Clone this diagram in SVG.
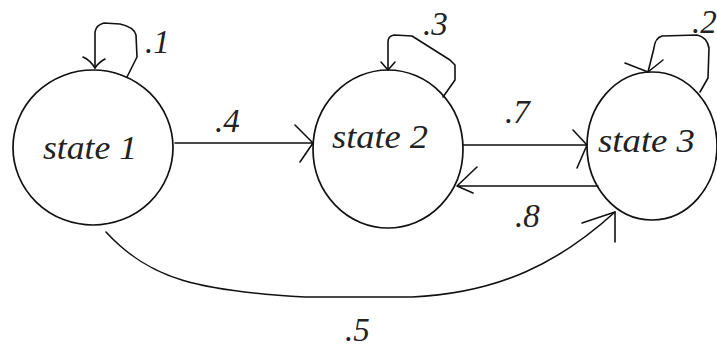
<svg xmlns="http://www.w3.org/2000/svg" width="717" height="349" viewBox="0 0 717 349">
<style>
.st{fill:none;stroke:#111;stroke-width:1.7}
.ln{fill:none;stroke:#111;stroke-width:1.6;stroke-linejoin:round;stroke-linecap:round}
.nm{font-family:"Liberation Serif","Times New Roman",serif;font-style:italic;font-size:33px;fill:#222}
.lb{font-family:"Liberation Serif","Times New Roman",serif;font-style:italic;font-size:33px;fill:#222}
</style>
<rect width="717" height="349" fill="#fff"/>
<g id="state1">
<ellipse class="st" cx="93" cy="147.5" rx="80" ry="77.5"/>
<text class="nm" x="43" y="159" textLength="94" lengthAdjust="spacingAndGlyphs">state 1</text>
</g>
<g id="state2">
<ellipse class="st" cx="388" cy="149" rx="75" ry="79"/>
<text class="nm" x="332" y="148" textLength="96" lengthAdjust="spacingAndGlyphs">state 2</text>
</g>
<g id="state3">
<ellipse class="st" cx="652" cy="146" rx="65" ry="74"/>
<text class="nm" x="598" y="152" textLength="97" lengthAdjust="spacingAndGlyphs">state 3</text>
</g>
<g id="connectors">
<path class="ln" d="M127,77 L137,57 L136,35 Q134,27 120,24 L104,23 Q96,25 95,32 L95,68"/>
<path class="ln" d="M83,57 Q90,60 95,68 M105,59 Q99,62 95,68"/>
<path class="ln" d="M443,97 L455,80 L455,65 L450,60 L412,36 L394,35 Q388,36 388,42 L388,70"/>
<path class="ln" d="M381,62 L388,70 L395,62"/>
<path class="ln" d="M700,92 L708,78 L709,48 Q707,37 697,35 L662,36 Q655,38 654,48 L648,72"/>
<path class="ln" d="M625,63 L648,72 M663,60 L648,72"/>
<path class="ln" d="M175,143 L313,143 M295,125 L313,143 L300,162"/>
<path class="ln" d="M463,145 L587,145 M573,130 L587,145 L577,168"/>
<path class="ln" d="M598,186 L457,186 M477,167 L457,186 L473,193"/>
<path class="ln" d="M106,232 C150,280 200,291 305,297 L412,297 C500,293 560,262 615,212"/>
<path class="ln" d="M582,223 L615,212 M615,242 L615,212"/>
</g>
<g id="labels">
<text class="lb" x="145" y="53">.1</text>
<text class="lb" x="423" y="35">.3</text>
<text class="lb" x="692" y="33">.2</text>
<text class="lb" x="215" y="132">.4</text>
<text class="lb" x="505" y="123">.7</text>
<text class="lb" x="515" y="227">.8</text>
<text class="lb" x="345" y="341">.5</text>
</g>
</svg>
